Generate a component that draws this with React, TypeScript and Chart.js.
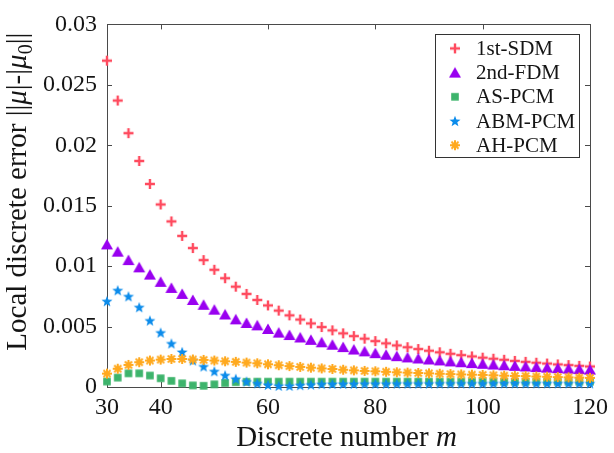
import React, { useEffect, useRef } from "react";
import { Chart, registerables } from "chart.js";

Chart.register(...registerables);

const mValues = [30, 32, 34, 36, 38, 40, 42, 44, 46, 48, 50, 52, 54, 56, 58, 60, 62, 64, 66, 68, 70, 72, 74, 76, 78, 80, 82, 84, 86, 88, 90, 92, 94, 96, 98, 100, 102, 104, 106, 108, 110, 112, 114, 116, 118, 120];

const sdm1st = [0.027, 0.0237, 0.021, 0.0187, 0.0168, 0.0151, 0.0137, 0.0125, 0.0115, 0.0105,
  0.0097, 0.009, 0.0083, 0.0077, 0.0072, 0.00675, 0.00632, 0.00593, 0.00558, 0.00526,
  0.00496, 0.00469, 0.00444, 0.00421, 0.004, 0.0038, 0.00361, 0.00344, 0.00329, 0.00314,
  0.003, 0.00287, 0.00275, 0.00264, 0.00253, 0.00243, 0.00234, 0.00225, 0.00216, 0.00208,
  0.00201, 0.00194, 0.00187, 0.00181, 0.00175, 0.0017];

const fdm2nd = [0.0118, 0.0112, 0.0105, 0.0099, 0.0093, 0.0087, 0.0082, 0.0077, 0.0072, 0.0068,
  0.0064, 0.006, 0.0056, 0.0053, 0.0051, 0.0048, 0.0045, 0.0043, 0.0041, 0.0039,
  0.0037, 0.0035, 0.0033, 0.0031, 0.00295, 0.0028, 0.00267, 0.00255, 0.00245, 0.00236,
  0.00228, 0.0022, 0.00212, 0.00205, 0.00198, 0.00192, 0.00186, 0.0018, 0.00175, 0.0017,
  0.00165, 0.0016, 0.00156, 0.00152, 0.00148, 0.00144];

const asPcm = [0.00045, 0.00078, 0.00113, 0.00113, 0.00095, 0.00072, 0.00051, 0.0003, 0.00013, 0.0001,
  0.00022, 0.00034, 0.0004, 0.00043, 0.00044, 0.00044, 0.00044, 0.00044, 0.00044, 0.00044,
  0.00044, 0.00044, 0.00044, 0.00044, 0.00044, 0.00044, 0.00044, 0.00044, 0.00044, 0.00044,
  0.00044, 0.00044, 0.00044, 0.00044, 0.00044, 0.00044, 0.00044, 0.00044, 0.00044, 0.00044,
  0.00044, 0.00044, 0.00044, 0.00044, 0.00044, 0.00044];

const abmPcm = [0.0071, 0.008, 0.0075, 0.0066, 0.0055, 0.0045, 0.0036, 0.0029, 0.0022, 0.0017,
  0.0013, 0.00097, 0.00068, 0.00045, 0.0003, 0.00018, 0.0001, 0.0001, 0.00015, 0.0002,
  0.00024, 0.00025, 0.00026, 0.00026, 0.00027, 0.00027, 0.00027, 0.00028, 0.00028, 0.00028,
  0.00028, 0.00029, 0.00029, 0.00029, 0.00029, 0.00029, 0.0003, 0.0003, 0.0003, 0.0003,
  0.0003, 0.0003, 0.0003, 0.0003, 0.0003, 0.0003];

const ahPcm = [0.00111, 0.00151, 0.00183, 0.00205, 0.00219, 0.00227, 0.00232, 0.00232, 0.00228, 0.00224,
  0.00219, 0.00213, 0.00208, 0.00202, 0.00196, 0.00188, 0.0018, 0.00173, 0.00166, 0.0016,
  0.00154, 0.00149, 0.00143, 0.00138, 0.00133, 0.0013, 0.00126, 0.00122, 0.00119, 0.00116,
  0.00113, 0.0011, 0.00107, 0.00104, 0.00102, 0.001, 0.00097, 0.00094, 0.00092, 0.0009,
  0.00087, 0.00085, 0.00082, 0.0008, 0.00078, 0.00076];

const xTickValues = [30, 40, 60, 80, 100, 120];
const yTickValues = [0, 0.005, 0.01, 0.015, 0.02, 0.025, 0.03];
const yTickLabels = ["0", "0.005", "0.01", "0.015", "0.02", "0.025", "0.03"];

const seriesNames = ["1st-SDM", "2nd-FDM", "AS-PCM", "ABM-PCM", "AH-PCM"];
const seriesColors = ["#FF4A5E", "#9900F0", "#3DB46C", "#0C8CEB", "#FFA91E"];
const seriesMarkers = ["plus", "triangle", "square", "pentagram", "asterisk"];

const FONT = "'Liberation Serif', 'Times New Roman', serif";
const TEXT_COLOR = "#151515";
const TICK_SIZE = 24;
const TITLE_SIZE = 29;
const LEGEND_SIZE = 21;

function makeMarker(kind: string, color: string): HTMLCanvasElement {
  const c = document.createElement("canvas");
  c.width = 16;
  c.height = 16;
  const g = c.getContext("2d")!;
  g.translate(8, 8);
  g.fillStyle = color;
  g.strokeStyle = color;
  g.lineCap = "butt";
  if (kind === "plus") {
    g.lineWidth = 2.4;
    g.beginPath();
    g.moveTo(-5, 0); g.lineTo(5, 0);
    g.moveTo(0, -5); g.lineTo(0, 5);
    g.stroke();
  } else if (kind === "triangle") {
    g.beginPath();
    g.moveTo(0, -5.5);
    g.lineTo(6, 5);
    g.lineTo(-6, 5);
    g.closePath();
    g.fill();
  } else if (kind === "square") {
    g.fillRect(-3.8, -3.8, 7.6, 7.6);
  } else if (kind === "pentagram") {
    const R = 5.8, r = 2.4;
    g.beginPath();
    for (let k = 0; k < 10; k++) {
      const rad = k % 2 === 0 ? R : r;
      const ang = -Math.PI / 2 + (k * Math.PI) / 5;
      const px = Math.cos(ang) * rad, py = Math.sin(ang) * rad + 0.5;
      if (k === 0) g.moveTo(px, py); else g.lineTo(px, py);
    }
    g.closePath();
    g.fill();
  } else if (kind === "asterisk") {
    g.lineWidth = 2;
    g.beginPath();
    for (let k = 0; k < 4; k++) {
      const ang = (k * Math.PI) / 4;
      g.moveTo(Math.cos(ang) * 5, Math.sin(ang) * 5);
      g.lineTo(-Math.cos(ang) * 5, -Math.sin(ang) * 5);
    }
    g.stroke();
  }
  return c;
}

type Seg = { t: string; italic?: boolean; sub?: boolean };

function drawSegments(ctx: CanvasRenderingContext2D, segs: Seg[], size: number, cx: number, cy: number) {
  const fontFor = (s: Seg) => `${s.italic ? "italic " : ""}${s.sub ? Math.round(size * 0.7) : size}px ${FONT}`;
  let total = 0;
  for (const s of segs) {
    ctx.font = fontFor(s);
    total += ctx.measureText(s.t).width;
  }
  let x = cx - total / 2;
  for (const s of segs) {
    ctx.font = fontFor(s);
    ctx.fillText(s.t, x, cy + (s.sub ? size * 0.3 : 0));
    x += ctx.measureText(s.t).width;
  }
}

export default function App() {
  const canvasRef = useRef<HTMLCanvasElement | null>(null);

  useEffect(() => {
    const canvas = canvasRef.current;
    if (!canvas) return;
    const markers = seriesMarkers.map((k, i) => makeMarker(k, seriesColors[i]));
    const allSeries = [sdm1st, fdm2nd, asPcm, abmPcm, ahPcm];

    const framePlugin = {
      id: "matlabFrame",
      beforeDatasetsDraw(chart: any) {
        const { ctx, chartArea: a, scales } = chart;
        ctx.save();
        ctx.strokeStyle = "#4a4a4a";
        ctx.lineWidth = 1;
        ctx.strokeRect(Math.round(a.left) + 0.5, Math.round(a.top) + 0.5, Math.round(a.right - a.left), Math.round(a.bottom - a.top));
        const tl = 5;
        ctx.beginPath();
        for (const v of xTickValues) {
          const px = Math.round(scales.x.getPixelForValue(v)) + 0.5;
          if (v === xTickValues[0] || v === xTickValues[xTickValues.length - 1]) continue;
          ctx.moveTo(px, a.bottom); ctx.lineTo(px, a.bottom - tl);
          ctx.moveTo(px, a.top); ctx.lineTo(px, a.top + tl);
        }
        for (const v of yTickValues) {
          const py = Math.round(scales.y.getPixelForValue(v)) + 0.5;
          if (v === yTickValues[0] || v === yTickValues[yTickValues.length - 1]) continue;
          ctx.moveTo(a.left, py); ctx.lineTo(a.left + tl, py);
          ctx.moveTo(a.right, py); ctx.lineTo(a.right - tl, py);
        }
        ctx.stroke();
        ctx.restore();
      },
      afterDraw(chart: any) {
        const { ctx, chartArea: a } = chart;
        ctx.save();
        ctx.fillStyle = TEXT_COLOR;
        ctx.textBaseline = "middle";
        ctx.textAlign = "left";
        // x title
        drawSegments(ctx, [{ t: "Discrete number " }, { t: "m", italic: true }], TITLE_SIZE, (a.left + a.right) / 2 - 2, 438);
        // y title
        ctx.save();
        ctx.translate(18, (a.top + a.bottom) / 2 - 14);
        ctx.rotate(-Math.PI / 2);
        drawSegments(ctx, [
          { t: "Local discrete error ||" },
          { t: "\u03BC", italic: true },
          { t: "|-|" },
          { t: "\u03BC", italic: true },
          { t: "0", sub: true },
          { t: "||" },
        ], TITLE_SIZE, 0, 0);
        ctx.restore();
        // legend
        const w = 144, h = 123;
        const left = a.right - 11 - w, top = a.top + 10;
        ctx.fillStyle = "#ffffff";
        ctx.fillRect(left, top, w, h);
        ctx.strokeStyle = "#333333";
        ctx.lineWidth = 1;
        ctx.strokeRect(Math.round(left) + 0.5, Math.round(top) + 0.5, w, h);
        ctx.font = `${LEGEND_SIZE}px ${FONT}`;
        ctx.fillStyle = TEXT_COLOR;
        for (let i = 0; i < seriesNames.length; i++) {
          const y = top + 14 + i * 24.2;
          ctx.drawImage(markers[i], left + 20 - 8, y - 8);
          ctx.fillText(seriesNames[i], left + 41, y + 1);
        }
        ctx.restore();
      },
    };

    const chart = new Chart(canvas, {
      type: "scatter",
      data: {
        datasets: allSeries.map((vals, i) => ({
          label: seriesNames[i],
          data: mValues.map((m, j) => ({ x: m, y: vals[j] })),
          pointStyle: markers[i] as any,
          pointRadius: 6,
          showLine: false,
          clip: false as any,
          order: seriesNames.length - i,
          backgroundColor: seriesColors[i],
          borderColor: seriesColors[i],
        })),
      },
      options: {
        responsive: false,
        animation: false,
        layout: { padding: { top: 17, right: 18, left: 0, bottom: 0 } },
        plugins: { legend: { display: false }, tooltip: { enabled: false } },
        scales: {
          x: {
            type: "linear",
            min: 30,
            max: 120,
            afterBuildTicks: (s: any) => { s.ticks = xTickValues.map((v) => ({ value: v })); },
            afterFit: (s: any) => { s.height = 66; },
            grid: { display: false, drawTicks: false },
            border: { display: false },
            ticks: {
              font: { family: FONT, size: TICK_SIZE },
              color: TEXT_COLOR,
              padding: 6,
              maxRotation: 0,
              autoSkip: false,
              callback: (v: any) => String(v),
            },
          },
          y: {
            type: "linear",
            min: 0,
            max: 0.03,
            afterBuildTicks: (s: any) => { s.ticks = yTickValues.map((v) => ({ value: v })); },
            afterFit: (s: any) => { s.width = 107; },
            grid: { display: false, drawTicks: false },
            border: { display: false },
            ticks: {
              font: { family: FONT, size: TICK_SIZE },
              color: TEXT_COLOR,
              padding: 10,
              autoSkip: false,
              callback: (_v: any, idx: number) => yTickLabels[idx],
            },
          },
        },
      },
      plugins: [framePlugin],
    } as any);

    return () => chart.destroy();
  }, []);

  return (
    <div style={{ position: "absolute", left: 0, top: 0, width: 614, height: 453, background: "#fff" }}>
      <canvas ref={canvasRef} width={614} height={453} style={{ display: "block" }} />
    </div>
  );
}
